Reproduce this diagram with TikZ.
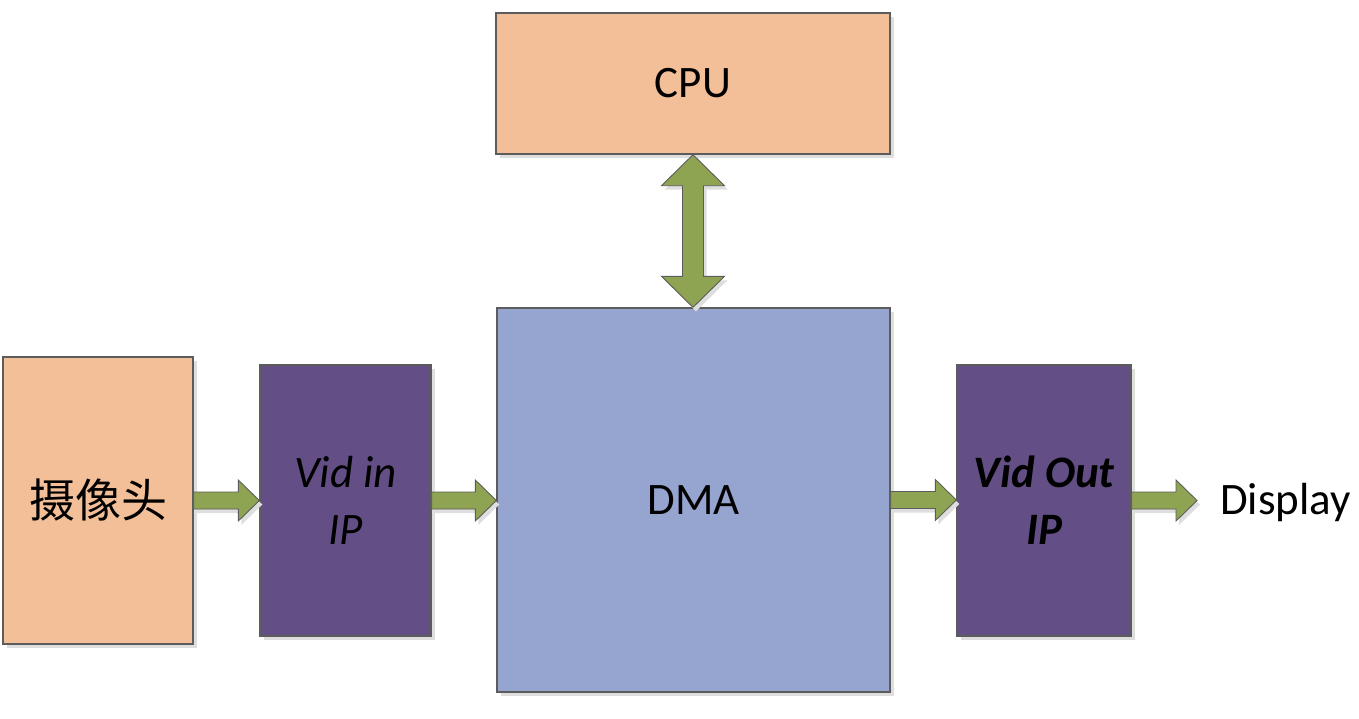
\documentclass[tikz,border=0pt]{standalone}
\usepackage{fontspec}
\setmainfont{Carlito}
\newfontfamily\cjk{Noto Sans CJK SC}
\usetikzlibrary{calc,shadows}
\definecolor{boxorange}{HTML}{F2BF98}
\definecolor{boxpurple}{HTML}{634F85}
\definecolor{boxblue}{HTML}{96A4D0}
\definecolor{arrgreen}{HTML}{8FA453}
\definecolor{edgegray}{HTML}{5C5C5C}
\definecolor{shadowgray}{HTML}{DEDEDE}
\tikzset{
  blk/.style={draw=edgegray, line width=1.4pt, inner sep=0pt, align=center,
    drop shadow={shadow xshift=4pt, shadow yshift=-4pt, fill=shadowgray, opacity=1}},
  orangebox/.style={blk, fill=boxorange},
  purplebox/.style={blk, fill=boxpurple},
  bluebox/.style={blk, fill=boxblue},
  arr/.style={fill=arrgreen, draw=edgegray, line width=0.9pt, line join=miter},
  shd/.style={fill=shadowgray},
  bigtext/.style={font=\fontsize{45}{57}\selectfont},
}
\newcommand\rarrowshape[3]{%
  \path[#3] let \p1=(#1), \p2=(#2) in
    (\x1,\y1+8.5pt) -- (\x2-21pt,\y1+8.5pt) -- (\x2-21pt,\y1+20.5pt) -- (\x2,\y1)
    -- (\x2-21pt,\y1-20.5pt) -- (\x2-21pt,\y1-8.5pt) -- (\x1,\y1-8.5pt) -- cycle;}
\newcommand\rarrow[2]{%
  \rarrowshape{#1}{#2}{shd,transform canvas={shift={(3pt,-4pt)}}}%
  \rarrowshape{#1}{#2}{arr}}
\newcommand\vdarrowshape[3]{%
  \path[#3] let \p1=(#1), \p2=(#2) in
    (\x1,\y1) -- (\x1+31.5pt,\y1-31pt) -- (\x1+10.5pt,\y1-31pt) -- (\x1+10.5pt,\y2+31pt)
    -- (\x1+31.5pt,\y2+31pt) -- (\x1,\y2) -- (\x1-31.5pt,\y2+31pt) -- (\x1-10.5pt,\y2+31pt)
    -- (\x1-10.5pt,\y1-31pt) -- (\x1-31.5pt,\y1-31pt) -- cycle;}
\newcommand\vdarrow[2]{%
  \vdarrowshape{#1}{#2}{shd,transform canvas={shift={(3pt,-4pt)}}}%
  \vdarrowshape{#1}{#2}{arr}}
\begin{document}
\begin{tikzpicture}[x=1pt,y=-1pt]
  \useasboundingbox (0,0) rectangle (1359,718);
  \node[orangebox, minimum width=190pt, minimum height=287pt] (cam) at (98,500.5)
    {\fontsize{46}{52}\selectfont\cjk 摄像头};
  \node[purplebox, bigtext, minimum width=171pt, minimum height=271pt] (vin) at (345.5,500.5)
    {\itshape Vid in\\\itshape IP};
  \node[bluebox, bigtext, minimum width=393pt, minimum height=384pt] (dma) at (693.5,500)
    {DMA};
  \node[orangebox, bigtext, minimum width=394pt, minimum height=141pt] (cpu) at (693,83.5)
    {CPU};
  \node[purplebox, bigtext, minimum width=174pt, minimum height=271pt] (vout) at (1044,500.5)
    {\bfseries\itshape Vid Out\\\bfseries\itshape IP};
  \node[bigtext, anchor=base west, inner sep=0pt] (disp) at (1220,514) {Display};
  \coordinate (dend) at (1197,500.5);
  \rarrow{cam.east}{vin.west}
  \rarrow{vin.east}{dma.west}
  \rarrow{dma.east}{vout.west}
  \rarrow{vout.east}{dend}
  \vdarrow{cpu.south}{dma.north}
\end{tikzpicture}
\end{document}
